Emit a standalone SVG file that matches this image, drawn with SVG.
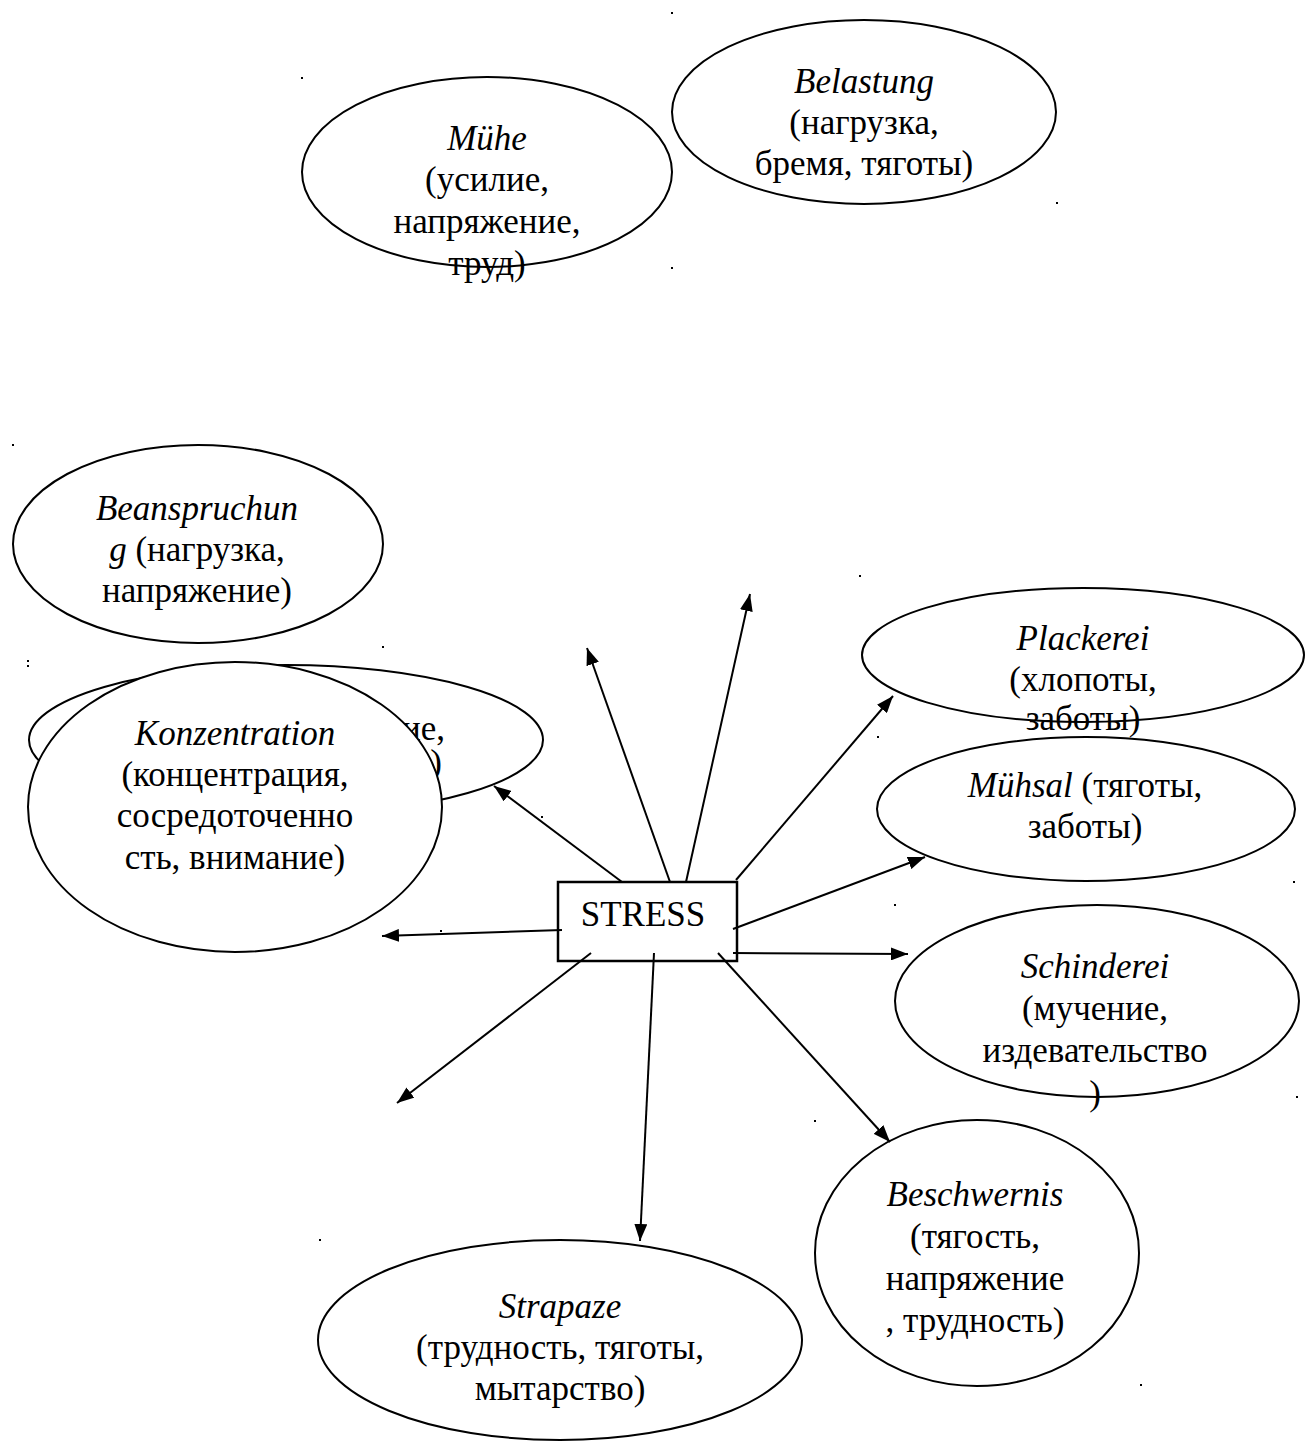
<svg xmlns="http://www.w3.org/2000/svg" width="1305" height="1442" viewBox="0 0 1305 1442">
<style>
.n ellipse{fill:#fff;stroke:#000;stroke-width:2}
text{font-family:"Liberation Serif","Times New Roman",serif;font-size:35px;fill:#000;text-anchor:middle}
.i{font-style:italic}
.c line{stroke:#000;stroke-width:2;marker-end:url(#ah)}
.d rect{fill:#000}
</style>
<defs>
<marker id="ah" markerWidth="17" markerHeight="13" refX="17" refY="6.5" orient="auto" markerUnits="userSpaceOnUse"><path d="M0,0 L17,6.5 L0,13 z" fill="#000"/></marker>
</defs>
<rect width="1305" height="1442" fill="#fff"/>
<g class="d">
<rect x="671" y="12" width="2" height="2"/><rect x="301" y="77" width="2" height="2"/><rect x="1056" y="202" width="2" height="2"/><rect x="671" y="267" width="2" height="2"/>
<rect x="12" y="444" width="2" height="2"/><rect x="382" y="646" width="2" height="2"/><rect x="27" y="660" width="2" height="2"/><rect x="27" y="665" width="2" height="2"/>
<rect x="859" y="575" width="2" height="2"/><rect x="541" y="816" width="2" height="2"/><rect x="877" y="736" width="2" height="2"/><rect x="1293" y="881" width="2" height="2"/>
<rect x="894" y="904" width="2" height="2"/><rect x="440" y="930" width="2" height="2"/><rect x="1296" y="1096" width="2" height="2"/><rect x="814" y="1120" width="2" height="2"/>
<rect x="319" y="1239" width="2" height="2"/><rect x="1140" y="1384" width="2" height="2"/>
</g>
<g class="n" id="muehe"><ellipse cx="487" cy="172" rx="185" ry="95"/><text x="487" y="150" class="i">Mühe</text><text x="487" y="191">(усилие,</text><text x="487" y="233">напряжение,</text><text x="487" y="275">труд)</text></g>
<g class="n" id="belastung"><ellipse cx="864" cy="112" rx="192" ry="92"/><text x="864" y="93" class="i">Belastung</text><text x="864" y="134">(нагрузка,</text><text x="864" y="175">бремя, тяготы)</text></g>
<g class="n" id="beanspruchung"><ellipse cx="198" cy="544" rx="185" ry="99"/><text x="197" y="520" class="i">Beanspruchun</text><text x="197" y="561"><tspan class="i">g</tspan> (нагрузка,</text><text x="197" y="602">напряжение)</text></g>
<g class="n" id="hidden"><ellipse cx="286" cy="740" rx="257" ry="75"/><text x="445" y="740" style="text-anchor:end">ие,</text><text x="442" y="774" style="text-anchor:end">)</text></g>
<g class="n" id="konzentration"><ellipse cx="235" cy="807" rx="207" ry="145"/><text x="235" y="745" class="i">Konzentration</text><text x="235" y="786">(концентрация,</text><text x="235" y="827">сосредоточенно</text><text x="235" y="869">сть, внимание)</text></g>
<g class="n" id="plackerei"><ellipse cx="1083" cy="655" rx="221" ry="67"/><text x="1083" y="650" class="i">Plackerei</text><text x="1083" y="691">(хлопоты,</text><text x="1083" y="730">заботы)</text></g>
<g class="n" id="muehsal"><ellipse cx="1086" cy="809" rx="209" ry="72"/><text x="1085" y="797"><tspan class="i">Mühsal</tspan> (тяготы,</text><text x="1085" y="838">заботы)</text></g>
<g class="n" id="schinderei"><ellipse cx="1097" cy="1001" rx="202" ry="96"/><text x="1095" y="978" class="i">Schinderei</text><text x="1095" y="1020">(мучение,</text><text x="1095" y="1062">издевательство</text><text x="1095" y="1105">)</text></g>
<g class="n" id="beschwernis"><ellipse cx="977" cy="1253" rx="162" ry="133"/><text x="975" y="1206" class="i">Beschwernis</text><text x="975" y="1248">(тягость,</text><text x="975" y="1290">напряжение</text><text x="975" y="1332">, трудность)</text></g>
<g class="n" id="strapaze"><ellipse cx="560" cy="1340" rx="242" ry="100"/><text x="560" y="1318" class="i">Strapaze</text><text x="560" y="1359">(трудность, тяготы,</text><text x="560" y="1400">мытарство)</text></g>
<g id="stress"><rect x="558" y="882" width="179" height="79" fill="#fff" stroke="#000" stroke-width="2.5"/><text x="643" y="926">STRESS</text></g>
<g class="c">
<line x1="622" y1="882" x2="494" y2="786"/>
<line x1="670" y1="882" x2="587" y2="648"/>
<line x1="686" y1="882" x2="750" y2="594"/>
<line x1="736" y1="880" x2="893" y2="696"/>
<line x1="733" y1="929" x2="925" y2="857"/>
<line x1="733" y1="953" x2="908" y2="954"/>
<line x1="562" y1="930" x2="382" y2="936"/>
<line x1="591" y1="953" x2="397" y2="1103"/>
<line x1="654" y1="953" x2="640" y2="1241"/>
<line x1="718" y1="953" x2="890" y2="1142"/>
</g>
</svg>
